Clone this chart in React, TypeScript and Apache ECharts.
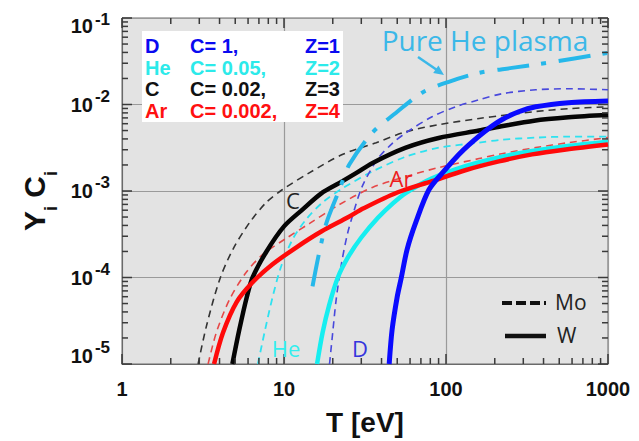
import React, { useEffect, useRef } from "react";
import * as echarts from "echarts";

// ---------- axis ranges & tick labels ----------
const X_MIN = 1;
const X_MAX = 1000;
const Y_MIN = 1e-5;
const Y_MAX = 1e-1;
const xTickValues = [1, 10, 100, 1000];
const xTickLabels = ["1", "10", "100", "1000"];
const yTickValues = [1e-5, 1e-4, 1e-3, 1e-2, 1e-1];
const yTickExponents = ["-5", "-4", "-3", "-2", "-1"];
const xMinorTicks = [2, 3, 4, 5, 6, 7, 8, 9, 20, 30, 40, 50, 60, 70, 80, 90, 200, 300, 400, 500, 600, 700, 800, 900];
const yMinorTicks = [
  2e-5, 3e-5, 4e-5, 5e-5, 6e-5, 7e-5, 8e-5, 9e-5,
  2e-4, 3e-4, 4e-4, 5e-4, 6e-4, 7e-4, 8e-4, 9e-4,
  2e-3, 3e-3, 4e-3, 5e-3, 6e-3, 7e-3, 8e-3, 9e-3,
  2e-2, 3e-2, 4e-2, 5e-2, 6e-2, 7e-2, 8e-2, 9e-2,
];

// ---------- series values: [T (eV), Y_i C_i] ----------
// Mo target (dashed)
const moD: [number, number][] = [[19.1, 1e-5], [20, 2.34e-5], [21, 5.6e-5], [22.6, 1.42e-4], [24.6, 3.15e-4], [27.2, 6.1e-4], [30.4, 1.13e-3], [37.6, 2.31e-3], [46.5, 3.53e-3], [56.7, 4.72e-3], [82, 7.22e-3], [115, 9.42e-3], [160, 1.135e-2], [221, 1.33e-2], [358, 1.48e-2], [571, 1.52e-2], [1000, 1.48e-2]];
const moHe: [number, number][] = [[6.9, 1e-5], [7.59, 2.34e-5], [8.53, 6.08e-5], [9.61, 1.35e-4], [11.3, 2.76e-4], [13.7, 4.69e-4], [17.3, 7.37e-4], [22.9, 1.07e-3], [35.1, 1.68e-3], [56.7, 2.5e-3], [90.5, 3.17e-3], [160, 3.62e-3], [221, 3.92e-3], [358, 4.14e-3], [571, 4.25e-3], [1000, 4.25e-3]];
const moC: [number, number][] = [[2.95, 1e-5], [3.32, 2.74e-5], [4.01, 9.5e-5], [4.84, 2.12e-4], [6.14, 4.33e-4], [7.77, 7.37e-4], [9.79, 1.04e-3], [14.4, 1.63e-3], [22.9, 2.64e-3], [37.1, 3.62e-3], [56.7, 4.85e-3], [90.5, 5.85e-3], [160, 6.9e-3], [221, 7.45e-3], [358, 8.3e-3], [571, 8.95e-3], [1000, 9.4e-3]];
const moAr: [number, number][] = [[3.4, 1e-5], [3.83, 2.34e-5], [4.62, 5.6e-5], [5.85, 1.15e-4], [7.41, 1.85e-4], [10.3, 2.83e-4], [14.4, 4.22e-4], [22, 6.98e-4], [35.1, 1.1e-3], [56.7, 1.47e-3], [90.5, 1.87e-3], [160, 2.37e-3], [221, 2.7e-3], [358, 3.17e-3], [571, 3.62e-3], [1000, 4.14e-3]];
// W target (solid)
const wHe: [number, number][] = [[16, 1e-5], [17.3, 2.3e-5], [19, 4.8e-5], [21.5, 1e-4], [25, 1.75e-4], [30, 2.9e-4], [38, 4.9e-4], [47, 7.2e-4], [57, 9.6e-4], [82, 1.4e-3], [133, 1.95e-3], [212, 2.45e-3], [340, 2.9e-3], [550, 3.3e-3], [1000, 3.72e-3]];
const wC: [number, number][] = [[4.8, 1e-5], [5.3, 2.5e-5], [5.9, 6e-5], [6.4, 1e-4], [7.8, 2e-4], [10, 3.9e-4], [13, 6.1e-4], [17, 9.4e-4], [22, 1.24e-3], [28, 1.62e-3], [35, 2.1e-3], [56, 3.15e-3], [90, 4.1e-3], [160, 5e-3], [220, 5.6e-3], [350, 6.5e-3], [570, 7.1e-3], [1000, 7.6e-3]];
const wAr: [number, number][] = [[3.7, 1e-5], [4.2, 2.3e-5], [5.1, 5.2e-5], [6.4, 8.8e-5], [8.5, 1.42e-4], [12, 2.25e-4], [17, 3.4e-4], [25, 5e-4], [31, 6.3e-4], [50, 9.6e-4], [82, 1.3e-3], [133, 1.75e-3], [212, 2.2e-3], [340, 2.65e-3], [550, 3.02e-3], [1000, 3.45e-3]];
const wD: [number, number][] = [[44.6, 1e-5], [46.5, 2.5e-5], [50, 6e-5], [53, 1e-4], [57.5, 2.1e-4], [65, 4.3e-4], [78.6, 1.04e-3], [98.6, 1.75e-3], [120, 2.64e-3], [139, 3.44e-3], [176, 4.98e-3], [221, 6.67e-3], [281, 8.25e-3], [358, 9.4e-3], [571, 1.05e-2], [1000, 1.1e-2]];
// pure He plasma (dash-dot)
const pureHe: [number, number][] = [[15, 7.9e-5], [16.5, 1.95e-4], [18.3, 4.3e-4], [22, 1.04e-3], [25.3, 2.02e-3], [35.1, 4.72e-3], [49.2, 8.04e-3], [71.2, 1.37e-2], [104, 1.83e-2], [160, 2.32e-2], [255, 2.65e-2], [430, 3.05e-2], [1000, 3.95e-2]];

// ---------- legend table ----------
const legendNames = ["D", "He", "C", "Ar"];
const legendConc = ["C= 1,", "C= 0.05,", "C= 0.02,", "C= 0.002,"];
const legendZ = ["Z=1", "Z=2", "Z=3", "Z=4"];
const legendColors = ["#0a0af0", "#2ceaea", "#111111", "#ff1010"];

const FONT = '"Liberation Sans", Arial, Helvetica, sans-serif';
const FONT2 = '"Open Sans", "Noto Sans", sans-serif';

function line(data: [number, number][], color: string, width: number, type: any) {
  return { type: "line", data, showSymbol: false, symbol: "none", smooth: 0.3, silent: true, lineStyle: { color, width, type, cap: "butt" } };
}

// inward axis ticks, placed through the axes' own log scales
function tickSeries(data: number[][], size: number[], offset: number[]) {
  return { type: "scatter", data, symbol: "rect", symbolSize: size, symbolOffset: offset, itemStyle: { color: "#3a3a3a", opacity: 1 }, clip: false, silent: true, z: 4 };
}

function buildOption() {
  const legendTexts: any[] = [];
  legendNames.forEach((n, i) => {
    const y = 46 + i * 21.7;
    const base = { fill: legendColors[i], font: `bold 20px ${FONT}`, verticalAlign: "middle", textVerticalAlign: "middle" };
    legendTexts.push({ type: "text", z: 11, style: { ...base, text: n, x: 145, y, align: "left", textAlign: "left" } });
    legendTexts.push({ type: "text", z: 11, style: { ...base, text: legendConc[i], x: 190, y, align: "left", textAlign: "left" } });
    legendTexts.push({ type: "text", z: 11, style: { ...base, text: legendZ[i], x: 340, y, align: "right", textAlign: "right" } });
  });
  const label = (text: string, x: number, y: number, color: string, size: number) => ({
    type: "text", z: 11,
    style: { text, x, y, fill: color, font: `${size}px ${FONT2}`, align: "center", textAlign: "center", verticalAlign: "middle", textVerticalAlign: "middle" },
  });
  return {
    animation: false,
    textStyle: { fontFamily: FONT },
    grid: { left: 122, right: 31, top: 18, bottom: 76, show: true, backgroundColor: "#e3e3e3", borderColor: "#6a6a6a", borderWidth: 1 },
    xAxis: {
      type: "log", logBase: 10, min: X_MIN, max: X_MAX,
      axisLine: { show: true, lineStyle: { color: "#6a6a6a", width: 1 } },
      axisTick: { show: false },
      splitLine: { show: true, lineStyle: { color: "#9a9a9a", width: 1.2 } },
      axisLabel: {
        margin: 15, color: "#111", fontSize: 20, fontWeight: "bold", fontFamily: FONT,
        formatter: (v: number) => {
          const i = xTickValues.findIndex((t) => Math.abs(Math.log10(t) - Math.log10(v)) < 1e-6);
          return i >= 0 ? xTickLabels[i] : "";
        },
      },
      name: "T [eV]", nameLocation: "middle", nameGap: 44,
      nameTextStyle: { color: "#111", fontSize: 28, fontWeight: "bold", fontFamily: FONT },
    },
    yAxis: {
      type: "log", logBase: 10, min: Y_MIN, max: Y_MAX,
      axisLine: { show: true, lineStyle: { color: "#6a6a6a", width: 1 } },
      axisTick: { show: false },
      splitLine: { show: true, lineStyle: { color: "#9a9a9a", width: 1.2 } },
      axisLabel: {
        margin: 12, color: "#111", fontFamily: FONT,
        formatter: (v: number) => {
          const i = yTickValues.findIndex((t) => Math.abs(Math.log10(t) - Math.log10(v)) < 1e-6);
          if (i < 0) return "";
          const e = yTickExponents[i];
          if (i === 0) return `{bb|10}{s|${e}}`;
          if (i === yTickValues.length - 1) return `{bt|10}{st|${e}}`;
          return `{b|10}{s|${e}}`;
        },
        rich: {
          b: { fontSize: 20, fontWeight: "bold", color: "#111", fontFamily: FONT, verticalAlign: "top", padding: [7, 0, 7, 0] },
          bb: { fontSize: 20, fontWeight: "bold", color: "#111", fontFamily: FONT, verticalAlign: "top", padding: [7, 0, 23, 0] },
          bt: { fontSize: 20, fontWeight: "bold", color: "#111", fontFamily: FONT, verticalAlign: "top", padding: [16, 0, 0, 0] },
          s: { fontSize: 17, fontWeight: "bold", color: "#111", fontFamily: FONT, verticalAlign: "top", padding: [0, 0, 0, 2] },
          st: { fontSize: 17, fontWeight: "bold", color: "#111", fontFamily: FONT, verticalAlign: "top", padding: [11, 0, 0, 2] },
        },
      },
      name: "{m|Y}{sub|i}{m| C}{sub2|i}", nameLocation: "middle", nameGap: 59, nameRotate: 90,
      nameTextStyle: {
        rich: {
          m: { fontSize: 30, fontWeight: "bold", color: "#111", fontFamily: FONT, verticalAlign: "top" },
          sub: { fontSize: 18, fontWeight: "bold", color: "#111", fontFamily: FONT, verticalAlign: "bottom", lineHeight: 40 },
          sub2: { fontSize: 18, fontWeight: "bold", color: "#111", fontFamily: FONT, verticalAlign: "bottom", lineHeight: 40, padding: [0, 20, 0, 0] },
        },
      },
    },
    series: [
      line(moC, "#333333", 1.6, [7, 5]),
      line(moAr, "#e64848", 1.6, [7, 5]),
      line(moHe, "#2ee2f0", 1.8, [7, 5]),
      line(moD, "#4848dc", 1.6, [7, 5]),
      line(wHe, "#16eef0", 4.5, "solid"),
      line(wC, "#050505", 4.5, "solid"),
      line(wAr, "#ff0a0a", 4.5, "solid"),
      line(wD, "#0a0aff", 5, "solid"),
      line(pureHe, "#26b8ea", 4, [32, 12, 5, 13]),
      tickSeries(xMinorTicks.map((v) => [v, Y_MIN]), [1.5, 6], [0, -3]),
      tickSeries(xMinorTicks.map((v) => [v, Y_MAX]), [1.5, 6], [0, 3]),
      tickSeries(yMinorTicks.map((v) => [X_MIN, v]), [6, 1.5], [3, 0]),
      tickSeries(yMinorTicks.map((v) => [X_MAX, v]), [6, 1.5], [-3, 0]),
      tickSeries(yTickValues.map((v) => [X_MIN, v]), [10, 1.5], [5, 0]),
      tickSeries(yTickValues.map((v) => [X_MAX, v]), [10, 1.5], [-5, 0]),
      tickSeries(xTickValues.map((v) => [v, Y_MIN]), [1.5, 10], [0, -5]),
      tickSeries(xTickValues.map((v) => [v, Y_MAX]), [1.5, 10], [0, 5]),
    ],
    graphic: [
      { type: "rect", z: 10, shape: { x: 142, y: 31, width: 201, height: 91 }, style: { fill: "#ffffff" } },
      ...legendTexts,
      { type: "line", z: 11, shape: { x1: 502, y1: 303, x2: 546, y2: 303 }, style: { stroke: "#111", lineWidth: 4, lineDash: [10, 4] } },
      { type: "line", z: 11, shape: { x1: 505, y1: 336, x2: 546, y2: 336 }, style: { stroke: "#111", lineWidth: 4.5 } },
      { type: "text", z: 11, style: { text: "Mo", x: 555, y: 302, fill: "#222", font: `21px ${FONT2}`, align: "left", textAlign: "left", verticalAlign: "middle", textVerticalAlign: "middle" } },
      { type: "text", z: 11, style: { text: "W", x: 557, y: 335, fill: "#222", font: `21px ${FONT2}`, align: "left", textAlign: "left", verticalAlign: "middle", textVerticalAlign: "middle" } },
      label("C", 293, 200, "#222", 22),
      label("Ar", 401, 178, "#ee1c1c", 22),
      label("He", 286, 348, "#33eeee", 22),
      label("D", 360, 348, "#3535dd", 22),
      label("Pure He plasma", 485, 40, "#3bb8e8", 28),
      { type: "line", z: 11, shape: { x1: 418, y1: 57, x2: 437, y2: 70 }, style: { stroke: "#3bb8e8", lineWidth: 2.5 } },
      { type: "polygon", z: 11, shape: { points: [[444, 75], [433.2, 72.9], [438.4, 65.6]] }, style: { fill: "#3bb8e8" } },
    ],
  };
}

export default function App() {
  const ref = useRef<HTMLDivElement>(null);
  useEffect(() => {
    document.body.style.margin = "0";
    const chart = echarts.init(ref.current!, null, { renderer: "svg" });
    chart.setOption(buildOption() as any);
    return () => chart.dispose();
  }, []);
  return <div ref={ref} style={{ width: 639, height: 441 }} />;
}
